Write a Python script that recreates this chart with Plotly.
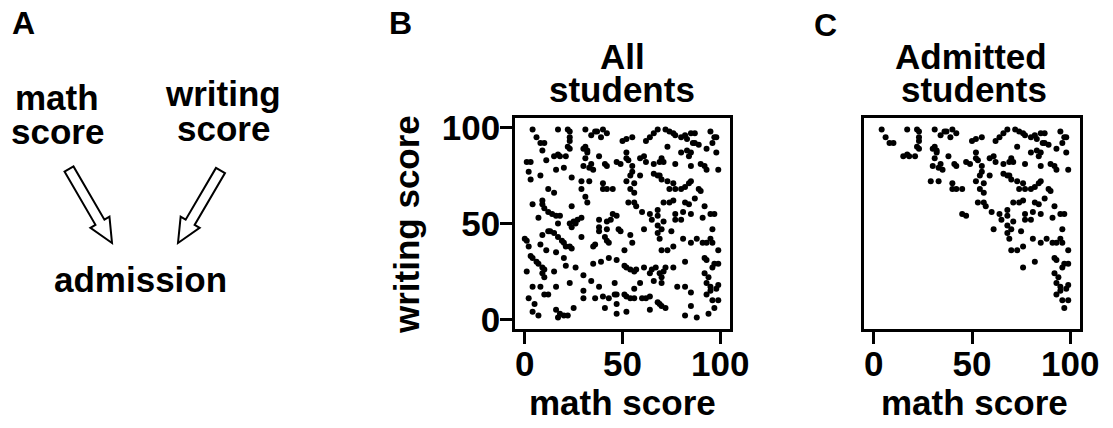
import math
import plotly.graph_objects as go

W, H = 1113, 428
FONT = "Liberation Sans, Arial, sans-serif"

# (math score, writing score) for every applicant
scores = [
    (4, 99), (6, 95), (8, 92), (10, 92), (9, 88), (17, 99), (22, 99), (23, 98), (23, 95), (23, 93),
    (22, 90), (31, 99), (34, 96), (36, 98), (37, 98), (40, 99), (42, 97), (31, 90), (32, 88), (50, 93),
    (52, 94), (55, 95), (62, 93), (64, 95), (66, 97), (68, 99), (72, 99), (74, 98), (76, 97), (77, 96),
    (80, 95), (82, 96), (85, 97), (87, 97), (83, 94), (95, 98), (97, 95), (98, 95), (96, 92), (73, 90),
    (86, 92), (87, 92), (89, 91), (93, 89), (39, 95),
    (1, 82), (3, 82), (2, 77), (11, 83), (15, 85), (17, 86), (18, 85), (16, 78), (20, 79), (21, 85),
    (23, 89), (30, 89), (32, 87), (31, 84), (30, 80), (33, 79), (35, 78), (34, 81), (38, 85), (41, 81),
    (42, 80), (47, 82), (49, 81), (52, 87), (52, 84), (53, 83), (55, 80), (55, 77), (59, 84), (61, 85),
    (62, 82), (66, 81), (69, 82), (70, 84), (71, 82), (77, 81), (80, 87), (83, 88), (85, 87), (84, 85),
    (85, 80), (90, 81), (92, 80), (93, 78), (98, 87), (99, 78),
    (3, 73), (8, 75), (12, 68), (15, 66), (24, 74), (29, 72), (29, 68), (33, 72), (40, 71), (40, 68),
    (42, 68), (45, 68), (52, 72), (54, 75), (56, 71), (54, 68), (56, 66), (59, 75), (66, 76), (68, 75),
    (69, 75), (70, 73), (73, 72), (76, 71), (74, 68), (77, 68), (80, 68), (82, 69), (84, 71), (85, 72),
    (89, 68), (90, 67),
    (4, 60), (9, 62), (9, 60), (10, 58), (12, 56), (14, 55), (16, 54), (18, 54), (24, 59), (31, 64),
    (32, 61), (7, 53), (17, 50), (23, 50), (25, 51), (27, 52), (29, 53), (38, 52), (38, 48), (42, 51),
    (44, 52), (45, 55), (47, 54), (53, 61), (56, 61), (57, 59), (60, 56), (64, 55), (65, 52), (68, 57),
    (68, 54), (71, 61), (74, 61), (76, 62), (77, 55), (77, 52), (80, 52), (81, 56), (82, 61), (84, 60),
    (85, 55), (92, 59), (95, 55), (97, 55), (91, 53), (71, 51), (68, 49), (87, 63),
    (0, 42), (1, 41), (2, 38), (8, 39), (9, 44), (12, 46), (13, 46), (15, 45), (17, 43), (19, 41),
    (20, 40), (21, 38), (23, 38), (24, 37), (11, 36), (16, 35), (24, 48), (26, 50), (29, 43), (35, 38),
    (41, 43), (42, 41), (43, 40), (38, 46), (42, 47), (48, 47), (49, 46), (51, 36), (54, 44), (55, 40),
    (61, 47), (68, 45), (69, 42), (70, 47), (75, 46), (70, 36), (73, 36), (76, 38), (81, 42), (85, 40),
    (88, 42), (91, 40), (93, 40), (95, 42), (96, 40), (99, 36), (96, 47), (36, 39),
    (3, 33), (4, 32), (6, 30), (7, 29), (9, 27), (10, 26), (9, 24), (10, 22), (15, 25), (20, 32),
    (21, 28), (26, 27), (30, 23), (35, 29), (39, 30), (43, 32), (47, 31), (51, 28), (54, 26), (56, 25),
    (57, 26), (61, 27), (64, 24), (65, 26), (67, 27), (69, 24), (70, 22), (71, 25), (72, 27), (76, 27),
    (82, 30), (92, 32), (93, 31), (97, 29), (99, 29), (96, 27), (1, 25), (92, 24), (94, 22), (52, 27),
    (4, 17), (8, 17), (10, 13), (12, 13), (16, 17), (23, 19), (34, 20), (38, 17), (46, 19), (56, 16),
    (59, 19), (66, 20), (70, 19), (78, 17), (82, 17), (85, 14), (93, 19), (95, 17), (95, 15), (98, 16),
    (99, 18), (30, 15), (30, 11), (36, 11), (40, 12), (43, 11), (46, 13), (47, 13), (51, 13), (52, 12),
    (54, 11), (56, 11), (60, 11), (62, 11), (64, 12), (2, 11), (93, 13),
    (5, 8), (4, 4), (7, 2), (16, 5), (17, 1), (18, 3), (20, 2), (22, 2), (25, 6), (41, 6), (47, 8),
    (47, 3), (52, 4), (64, 5), (68, 9), (69, 8), (70, 7), (72, 6), (82, 2), (85, 7), (88, 1),
    (94, 3), (97, 6), (99, 10), (96, 10),
]

# admission happens when the two scores together reach the cutoff
ADMISSION_CUTOFF = 100

math_all = [m for m, w in scores]
writing_all = [w for m, w in scores]
math_adm = [m for m, w in scores if m + w >= ADMISSION_CUTOFF]
writing_adm = [w for m, w in scores if m + w >= ADMISSION_CUTOFF]

TICKS = [0, 50, 100]
AX_RANGE = [-5, 105]


def px(x):
    return x / W


def py(y):
    return 1 - y / H


fig = go.Figure()
fig.add_trace(go.Scatter(x=math_all, y=writing_all, mode="markers",
                         marker=dict(color="black", size=6), xaxis="x", yaxis="y",
                         hoverinfo="skip"))
fig.add_trace(go.Scatter(x=math_adm, y=writing_adm, mode="markers",
                         marker=dict(color="black", size=6), xaxis="x2", yaxis="y2",
                         hoverinfo="skip"))

tickfont = dict(family=FONT, size=35, color="black", weight="bold")
frame = dict(showline=True, linecolor="black", linewidth=2.5, mirror=True, automargin=False,
             showgrid=False, zeroline=False, range=AX_RANGE, fixedrange=True)
xticks = dict(tickvals=TICKS, ticks="outside", ticklen=12, tickwidth=2.5, tickcolor="black",
              tickfont=tickfont, ticklabelstandoff=-10)
ydom = [py(329), py(118)]

fig.update_layout(
    width=W, height=H, margin=dict(l=0, r=0, t=0, b=0, autoexpand=False),
    paper_bgcolor="white", plot_bgcolor="white", showlegend=False,
    xaxis=dict(domain=[px(515), px(730)], anchor="y", **xticks, **frame),
    yaxis=dict(domain=ydom, anchor="x", tickvals=TICKS, ticks="outside",
               ticklen=12, tickwidth=2.5, tickcolor="black", tickfont=tickfont,
               ticklabelstandoff=-7, **frame),
    xaxis2=dict(domain=[px(864), px(1080)], anchor="y2", **xticks, **frame),
    yaxis2=dict(domain=ydom, anchor="x2", showticklabels=False, ticks="", **frame),
)


def label(text, x, y, size=35, xanchor="center", angle=0):
    fig.add_annotation(text=text, x=px(x), y=py(y), xref="paper", yref="paper",
                       xanchor=xanchor, yanchor="middle", showarrow=False, textangle=angle,
                       font=dict(family=FONT, size=size, color="black", weight="bold"))


# panel letters
label("A", 10, 23, size=32, xanchor="left")
label("B", 387, 23, size=32, xanchor="left")
label("C", 812, 25, size=32, xanchor="left")

# panel A: causal diagram
label("math", 57, 98)
label("score", 57, 132)
label("writing", 223, 94)
label("score", 223, 129)
label("admission", 140, 279)

# panel titles
label("All", 622, 56)
label("students", 622, 90)
label("Admitted", 971, 56)
label("students", 974, 90)

# axis titles
label("math score", 622, 402)
label("math score", 975, 402)
label("writing score", 406, 225, angle=-90)


def hollow_arrow(tail, tip, shaft_half=5.2, head_half=11, head_len=24):
    (x0, y0), (x1, y1) = tail, tip
    dx, dy = x1 - x0, y1 - y0
    length = math.hypot(dx, dy)
    ux, uy = dx / length, dy / length
    nx, ny = -uy, ux
    bx, by = x1 - ux * head_len, y1 - uy * head_len
    pts = [
        (x0 + nx * shaft_half, y0 + ny * shaft_half),
        (bx + nx * shaft_half, by + ny * shaft_half),
        (bx + nx * head_half, by + ny * head_half),
        (x1, y1),
        (bx - nx * head_half, by - ny * head_half),
        (bx - nx * shaft_half, by - ny * shaft_half),
        (x0 - nx * shaft_half, y0 - ny * shaft_half),
    ]
    path = "M " + " L ".join(f"{px(a):.5f},{py(b):.5f}" for a, b in pts) + " Z"
    fig.add_shape(type="path", path=path, xref="paper", yref="paper",
                  fillcolor="white", line=dict(color="black", width=2))


hollow_arrow((69, 169), (112, 243))
hollow_arrow((220.5, 170.5), (178, 243))

fig.write_html("out.html")
